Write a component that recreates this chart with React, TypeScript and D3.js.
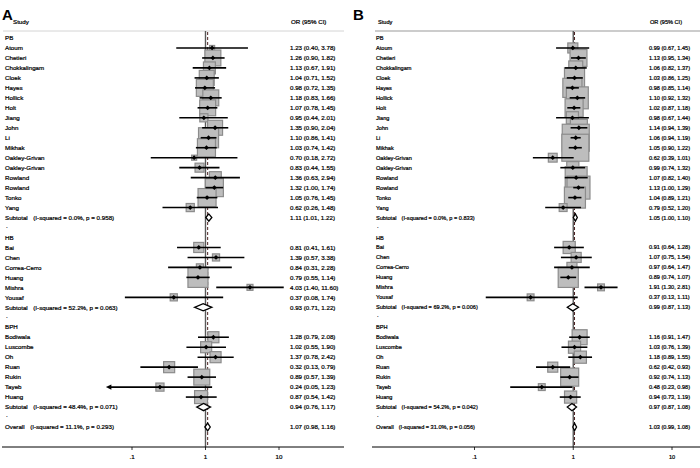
import React from "react";
import * as d3 from "d3";

// ---------------- DATA ----------------
const groups = ["PB", "HB", "BPH"];
const pbStudies = ["Atoum", "Chetieri", "Chokkalingam", "Cloek", "Hayes", "Hollick", "Holt", "Jiang", "John", "Li", "Mikhak", "Oakley-Grivan", "Oakley-Grivan", "Rowland", "Rowland", "Tonko", "Yang"];
const hbStudies = ["Bai", "Chen", "Correa-Cerro", "Huang", "Mishra", "Yousaf"];
const bphStudies = ["Bodiwala", "Luscombe", "Oh", "Ruan", "Rukin", "Tayeb", "Huang"];

// Panel A
const aOR = [1.23, 1.26, 1.13, 1.04, 0.98, 1.18, 1.07, 0.95, 1.35, 1.10, 1.03, 0.70, 0.83, 1.36, 1.32, 1.05, 0.62,
  0.81, 1.39, 0.84, 0.79, 4.03, 0.37,
  1.28, 1.02, 1.37, 0.32, 0.89, 0.24, 0.87];
const aLower = [0.40, 0.90, 0.67, 0.71, 0.72, 0.83, 0.78, 0.44, 0.90, 0.86, 0.74, 0.18, 0.44, 0.63, 1.00, 0.76, 0.26,
  0.41, 0.57, 0.31, 0.55, 1.40, 0.08,
  0.79, 0.55, 0.78, 0.13, 0.57, 0.05, 0.54];
const aUpper = [3.78, 1.82, 1.91, 1.52, 1.35, 1.66, 1.45, 2.01, 2.04, 1.41, 1.42, 2.72, 1.55, 2.94, 1.74, 1.45, 1.48,
  1.61, 3.38, 2.28, 1.14, 11.60, 1.74,
  2.08, 1.90, 2.42, 0.79, 1.39, 1.23, 1.42];
const aWeight = [0.5, 5.0, 2.8, 4.4, 5.7, 5.0, 5.0, 1.3, 4.4, 7.9, 6.4, 0.5, 1.6, 2.8, 6.4, 6.4, 1.3,
  2.0, 1.0, 1.0, 7.9, 0.7, 1.0,
  2.4, 2.4, 2.4, 2.4, 5.0, 1.3, 3.3];
const aSubOR = [1.11, 0.93, 0.94];
const aSubLower = [1.01, 0.71, 0.76];
const aSubUpper = [1.22, 1.22, 1.17];
const aSubI2 = [0.0, 52.2, 48.4];
const aSubP = [0.958, 0.063, 0.071];
const aOverall = [1.07, 0.98, 1.16];
const aOverallHet = [11.1, 0.293];

// Panel B
const bOR = [0.99, 1.13, 1.06, 1.03, 0.98, 1.10, 1.02, 0.98, 1.14, 1.06, 1.05, 0.62, 0.99, 1.07, 1.13, 1.04, 0.79,
  0.91, 1.07, 0.97, 0.89, 1.91, 0.37,
  1.16, 1.03, 1.18, 0.62, 0.92, 0.48, 0.94];
const bLower = [0.67, 0.95, 0.82, 0.86, 0.85, 0.92, 0.87, 0.67, 0.94, 0.94, 0.90, 0.39, 0.74, 0.82, 1.00, 0.89, 0.52,
  0.64, 0.75, 0.64, 0.74, 1.30, 0.13,
  0.91, 0.76, 0.89, 0.42, 0.74, 0.23, 0.73];
const bUpper = [1.45, 1.34, 1.37, 1.25, 1.14, 1.32, 1.18, 1.44, 1.39, 1.19, 1.22, 1.01, 1.32, 1.40, 1.29, 1.21, 1.20,
  1.28, 1.54, 1.47, 1.07, 2.81, 1.11,
  1.47, 1.39, 1.55, 0.93, 1.13, 0.98, 1.19];
const bWeight = [1.3, 3.7, 2.5, 5.2, 4.7, 6.2, 4.2, 1.9, 3.7, 9.4, 9.4, 1.0, 1.9, 6.2, 6.8, 5.7, 0.8,
  1.9, 1.3, 1.3, 5.2, 0.6, 0.6,
  2.9, 1.9, 1.9, 1.3, 4.2, 0.6, 1.9];
const bSubOR = [1.05, 0.99, 0.97];
const bSubLower = [1.00, 0.87, 0.87];
const bSubUpper = [1.10, 1.13, 1.08];
const bSubI2 = [0.0, 69.2, 54.2];
const bSubP = [0.833, 0.006, 0.042];
const bOverall = [1.03, 0.99, 1.08];
const bOverallHet = [31.0, 0.056];

const tickValues = [0.1, 1, 10];
const tickLabels = [".1", "1", "10"];

// ---------------- LAYOUT ----------------
const f2 = d3.format(".2f");
const f1 = d3.format(".1f");
const f3 = d3.format(".3f");

type Row =
  | { kind: "header"; label: string }
  | { kind: "study"; label: string; idx: number }
  | { kind: "sub"; g: number }
  | { kind: "dot" }
  | { kind: "overall" };

function buildRows(): Row[] {
  const rows: Row[] = [];
  const lists = [pbStudies, hbStudies, bphStudies];
  let k = 0;
  lists.forEach((list, g) => {
    rows.push({ kind: "header", label: groups[g] });
    list.forEach((name) => {
      rows.push({ kind: "study", label: name, idx: k });
      k++;
    });
    rows.push({ kind: "sub", g });
    rows.push({ kind: "dot" });
  });
  rows.push({ kind: "overall" });
  return rows;
}

const rows = buildRows();

interface PanelCfg {
  letter: string;
  letterX: number;
  labelX: number;
  studyX: number;
  orX: number;
  range: [number, number];
  axisLine: [number, number];
  headLine: [number, number];
  headColor: string;
  font: number;
  boxK: number;
  or: number[];
  lo: number[];
  hi: number[];
  w: number[];
  subOR: number[];
  subLo: number[];
  subHi: number[];
  subI2: number[];
  subP: number[];
  overall: number[];
  overallHet: number[];
}

const rowY = d3.scaleLinear().domain([0, 39]).range([38, 427]);

function Panel({ c }: { c: PanelCfg }) {
  const x = d3.scaleLog().domain([0.1, 10]).range(c.range);
  const top = 31;
  const axisY = 447;
  const fs = c.font;
  const textProps = {
    fontFamily: "Liberation Sans, Arial, sans-serif",
    fontSize: fs,
    fill: "#000",
    stroke: "#000",
    strokeWidth: 0.22,
  };
  const ciText = (o: number, l: number, h: number) => `${f2(o)} (${f2(l)}, ${f2(h)})`;
  const diamond = (o: number, l: number, h: number, y: number, hh: number) =>
    `M${x(l)},${y} L${x(o)},${y - hh} L${x(h)},${y} L${x(o)},${y + hh} Z`;

  return (
    <g>
      <text x={c.letterX} y={20} fontFamily="Liberation Sans, Arial, sans-serif" fontWeight="bold" fontSize={15} fill="#000">
        {c.letter}
      </text>
      <text x={c.studyX} y={24} {...textProps}>Study</text>
      <text x={c.orX + 1} y={24} {...textProps}>OR (95% CI)</text>
      <line x1={c.headLine[0]} x2={c.headLine[1]} y1={top} y2={top} stroke={c.headColor} strokeWidth={1} />

      {/* null line and overall dashed line */}
      <line x1={x(1)} x2={x(1)} y1={top} y2={axisY} stroke="#5a5a5a" strokeWidth={1.4} />
      <line x1={x(c.overall[0])} x2={x(c.overall[0])} y1={top + 1} y2={axisY} stroke="#4a2020" strokeWidth={1} strokeDasharray="3,2" />

      {/* boxes */}
      {rows.map((r, i) =>
        r.kind === "study" ? (
          (() => {
            const s = c.boxK * Math.sqrt(c.w[r.idx]);
            return (
              <rect key={"b" + i} x={x(c.or[r.idx]) - s / 2} y={rowY(i) - s / 2} width={s} height={s}
                fill="#bdbdbd" stroke="#8c8c8c" strokeWidth={1.2} />
            );
          })()
        ) : null
      )}

      {/* CI lines, points */}
      {rows.map((r, i) => {
        if (r.kind !== "study") return null;
        const y = rowY(i);
        const lo = c.lo[r.idx];
        const arrow = lo <= 0.05;
        const xl = x(lo);
        return (
          <g key={"c" + i}>
            <line x1={xl} x2={x(c.hi[r.idx])} y1={y} y2={y} stroke="#000" strokeWidth={1.6} />
            {arrow ? <path d={`M${xl - 4},${y} L${xl + 1.5},${y - 2.6} L${xl + 1.5},${y + 2.6} Z`} fill="#000" /> : null}
            <path d={`M${x(c.or[r.idx]) - 2.4},${y} L${x(c.or[r.idx])},${y - 2.4} L${x(c.or[r.idx]) + 2.4},${y} L${x(c.or[r.idx])},${y + 2.4} Z`} fill="#000" />
          </g>
        );
      })}

      {/* diamonds */}
      {rows.map((r, i) => {
        if (r.kind === "sub") {
          return <path key={"d" + i} d={diamond(c.subOR[r.g], c.subLo[r.g], c.subHi[r.g], rowY(i), 3.6)} fill="#fff" stroke="#000" strokeWidth={1.3} />;
        }
        if (r.kind === "overall") {
          return <path key={"d" + i} d={diamond(c.overall[0], c.overall[1], c.overall[2], rowY(i), 3.8)} fill="#fff" stroke="#000" strokeWidth={1.3} />;
        }
        return null;
      })}

      {/* labels */}
      {rows.map((r, i) => {
        const y = rowY(i) + fs * 0.36;
        if (r.kind === "header") return <text key={"l" + i} x={c.labelX} y={y} {...textProps}>{r.label}</text>;
        if (r.kind === "dot") return <text key={"l" + i} x={c.labelX + 1} y={y - 2} {...textProps}>.</text>;
        if (r.kind === "study")
          return (
            <g key={"l" + i}>
              <text x={c.labelX} y={y} {...textProps}>{r.label}</text>
              <text x={c.orX} y={y} {...textProps}>{ciText(c.or[r.idx], c.lo[r.idx], c.hi[r.idx])}</text>
            </g>
          );
        if (r.kind === "sub")
          return (
            <g key={"l" + i}>
              <text x={c.labelX} y={y} {...textProps}>
                Subtotal
                <tspan dx={fs * 0.9}>{`(I-squared = ${f1(c.subI2[r.g])}%, p = ${f3(c.subP[r.g])})`}</tspan>
              </text>
              <text x={c.orX} y={y} {...textProps}>{ciText(c.subOR[r.g], c.subLo[r.g], c.subHi[r.g])}</text>
            </g>
          );
        return (
          <g key={"l" + i}>
            <text x={c.labelX} y={y} {...textProps}>
              Overall
              <tspan dx={fs * 0.9}>{`(I-squared = ${f1(c.overallHet[0])}%, p = ${f3(c.overallHet[1])})`}</tspan>
            </text>
            <text x={c.orX} y={y} {...textProps}>{ciText(c.overall[0], c.overall[1], c.overall[2])}</text>
          </g>
        );
      })}

      {/* axis */}
      <line x1={c.axisLine[0]} x2={c.axisLine[1]} y1={axisY} y2={axisY} stroke="#000" strokeWidth={1} />
      {tickValues.map((t, i) => (
        <g key={"t" + i}>
          <line x1={x(t)} x2={x(t)} y1={axisY} y2={axisY + 3} stroke="#000" strokeWidth={0.8} />
          <text x={x(t)} y={axisY + 12} textAnchor="middle" {...textProps}>{tickLabels[i]}</text>
        </g>
      ))}
    </g>
  );
}

const panelA: PanelCfg = {
  letter: "A", letterX: 2, labelX: 5, studyX: 13, orX: 290,
  range: [132, 279], axisLine: [2, 344], headLine: [3, 344], headColor: "#d4d4d4",
  font: 6.2, boxK: 7.13,
  or: aOR, lo: aLower, hi: aUpper, w: aWeight,
  subOR: aSubOR, subLo: aSubLower, subHi: aSubUpper, subI2: aSubI2, subP: aSubP,
  overall: aOverall, overallHet: aOverallHet,
};

const panelB: PanelCfg = {
  letter: "B", letterX: 353, labelX: 376, studyX: 378, orX: 649,
  range: [474.5, 672], axisLine: [372, 700], headLine: [375, 700], headColor: "#999",
  font: 5.6, boxK: 8.81,
  or: bOR, lo: bLower, hi: bUpper, w: bWeight,
  subOR: bSubOR, subLo: bSubLower, subHi: bSubUpper, subI2: bSubI2, subP: bSubP,
  overall: bOverall, overallHet: bOverallHet,
};

export default function App() {
  return (
    <svg width={700} height={468} style={{ position: "absolute", left: 0, top: 0, background: "#fff" }}>
      <rect x={0} y={0} width={700} height={468} fill="#fff" />
      <Panel c={panelA} />
      <Panel c={panelB} />
    </svg>
  );
}
